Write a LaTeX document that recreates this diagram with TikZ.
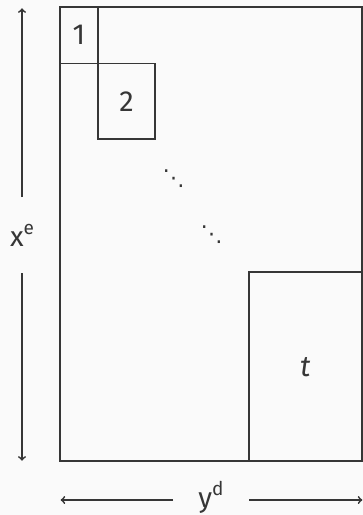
\documentclass[tikz,border=0pt]{standalone}
\usepackage{fontspec}
\setmainfont{Fira Sans}
\newfontfamily\dotsfont{DejaVu Sans}
\definecolor{ink}{HTML}{363636}
\definecolor{paper}{HTML}{FAFAFA}
\newcommand{\supfig}[1]{\raisebox{0.42em}{\fontsize{19}{21}\selectfont #1}}
\begin{document}
\begin{tikzpicture}[x=1pt,y=-1pt,line width=1.8pt,draw=ink,text=ink,
  block/.style={draw=ink, anchor=north west, inner sep=0pt, outer sep=0pt, font=\fontsize{29}{31}\selectfont},
  axislabel/.style={inner sep=0pt, outer sep=0pt, font=\fontsize{28}{30}\selectfont},
  dotsnode/.style={inner sep=0pt, font=\dotsfont\fontsize{22}{24}\selectfont}]
\fill[paper] (0,0) rectangle (363,515);
\useasboundingbox (0,0) rectangle (363,515);
\node[block, minimum width=302pt, minimum height=454pt] (mat) at (60,7) {};
\node[block, minimum width=38pt, minimum height=56.5pt] (b1) at (60,7) {1};
\node[block, minimum width=57pt, minimum height=75.5pt] (b2) at (b1.south east) {2};
\node[block, minimum width=113.3pt, minimum height=188.7pt, anchor=south east] (bt) at (mat.south east) {\textit{t}};
\node[dotsnode] (d1) at (173.7,178.3) {⋱};
\node[dotsnode] (d2) at (211.7,234.3) {⋱};
\node[axislabel, minimum height=76pt] (xe) at (22,235) {x\supfig{e}};
\node[axislabel, minimum width=76pt] (yd) at (211,497) {y\supfig{d}};
\coordinate (xtop) at (22,8.3);
\coordinate (xbot) at (22,460.7);
\coordinate (yleft) at (60.7,500);
\coordinate (yright) at (362.3,500);
\draw[->, ink] (xe) -- (xtop);
\draw[->, ink] (xe) -- (xbot);
\draw[->, ink] (yd.west |- yleft) -- (yleft);
\draw[->, ink] (yd.east |- yright) -- (yright);
\end{tikzpicture}
\end{document}
